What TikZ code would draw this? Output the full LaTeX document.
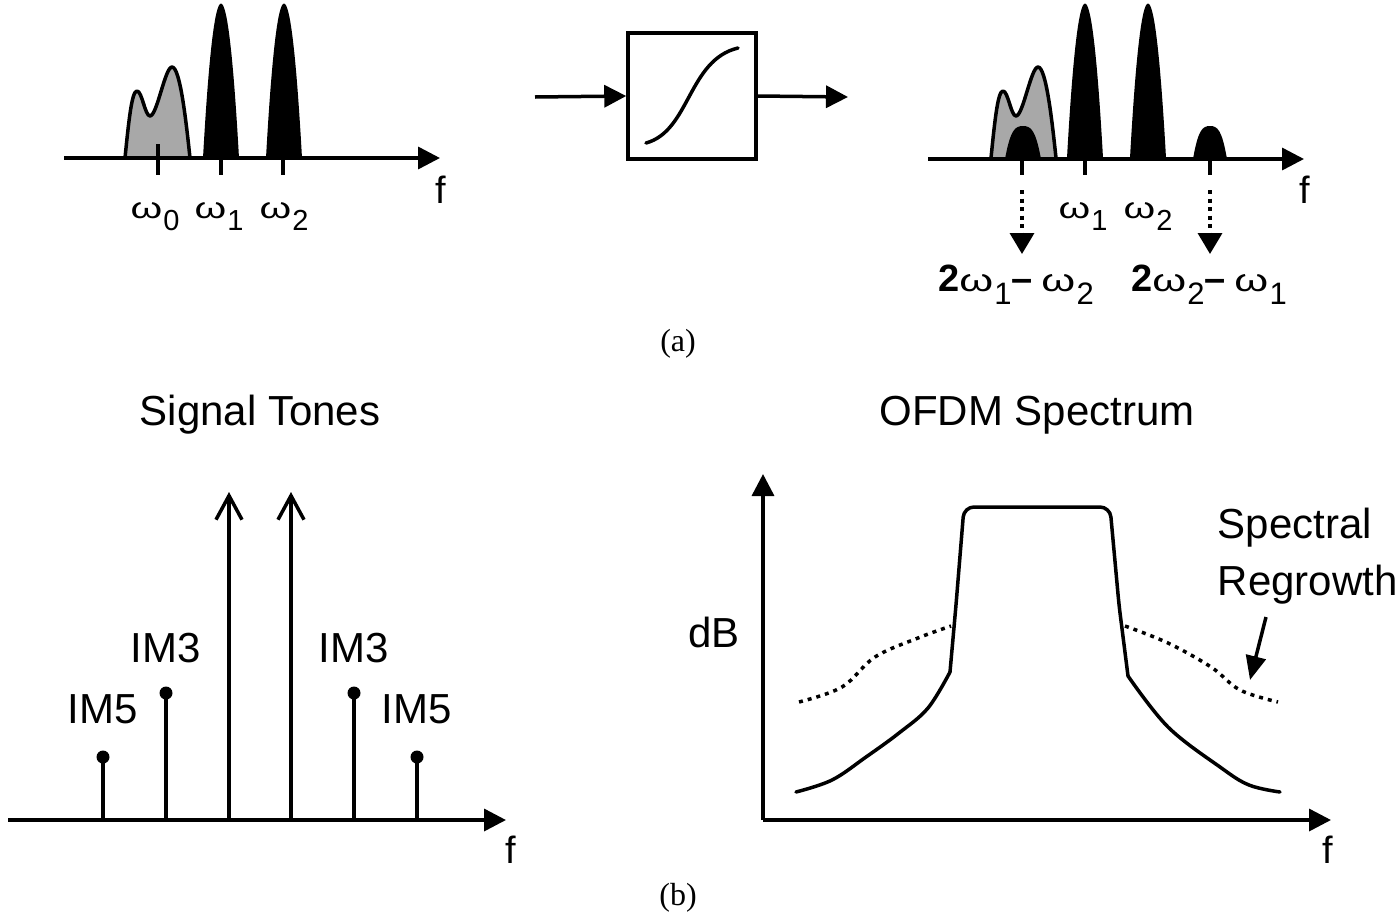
\documentclass[tikz,border=0pt]{standalone}
\usepackage{fontspec}
\usepackage{graphicx}
\setmainfont{Liberation Sans}
\newfontfamily\serifrm{Liberation Serif}
\usetikzlibrary{arrows.meta}
\definecolor{humpgray}{RGB}{168,168,168}
\newcommand{\omg}{\scalebox{1.4}[1.02]{ω}}
\newcommand{\om}[1]{\omg\kern0.04em\raisebox{-0.42em}{#1}}
\newcommand{\bigb}[1]{{\fontsize{38pt}{40pt}\selectfont\textbf{#1}}}
\newcommand{\grayhump}{%
  \filldraw[fill=humpgray, line width=3.5pt, line join=round]
    (125,158) .. controls (129,118) and (132,91) .. (137,91)
    .. controls (142,91) and (145,116) .. (150,116)
    .. controls (157,116) and (165,67) .. (172,67)
    .. controls (180,67) and (186,120) .. (190,158);}
\newcommand{\tallpeak}[2]{%
  \fill ({#1-#2},158) .. controls ({#1-#2*0.36},-48) and ({#1+#2*0.36},-48) .. ({#1+#2},158) -- cycle;}
\newcommand{\smallpeak}[2]{%
  \fill ({#1-#2},159) .. controls ({#1-#2*0.7},130) and ({#1-#2*0.45},126) .. (#1,126)
    .. controls ({#1+#2*0.45},126) and ({#1+#2*0.7},130) .. ({#1+#2},159) -- cycle;}
\begin{document}
\begin{tikzpicture}[x=1pt,y=-1pt,line width=3.5pt,
  axarr/.style={line width=3.5pt,-{Triangle[length=22pt,width=22pt]}},
  tonearr/.style={line width=3.5pt,-{Straight Barb[length=24pt,width=26pt,line width=3.5pt]}},
  dotarr/.style={line width=3.5pt,dash pattern=on 4pt off 4.5pt,-{Triangle[length=21pt,width=24pt]}},
  tick/.style={line width=3.5pt},
  lbl/.style={font=\fontsize{42pt}{50pt}\selectfont, inner sep=0pt, anchor=base},
  omlbl/.style={font=\fontsize{29pt}{34pt}\selectfont, inner sep=0pt, anchor=base},
  imlbl/.style={font=\fontsize{31pt}{36pt}\selectfont, inner sep=0pt, anchor=base},
  flbl/.style={font=\fontsize{38pt}{44pt}\selectfont, inner sep=0pt, anchor=base},
  caplbl/.style={font=\serifrm\fontsize{32pt}{36pt}\selectfont, inner sep=0pt, anchor=base},
  curve/.style={line width=3.5pt, line cap=round, line join=round},
  dotcurve/.style={line width=3.5pt, dash pattern=on 4pt off 5pt}]
\useasboundingbox (0,0) rectangle (1400,911);

% ---------- (a) left spectrum ----------
\grayhump
\tallpeak{221}{18}
\tallpeak{284}{18}
\coordinate (la0) at (64,158);
\coordinate (la1) at (440,158);
\draw[axarr] (la0) -- (la1);
\draw[tick] (158,144) -- (158,175);
\draw[tick] (221,150) -- (221,175);
\draw[tick] (283,150) -- (283,175);
\node[omlbl] (w0) at (155,218) {\om{0}};
\node[omlbl] (w1) at (219,218) {\om{1}};
\node[omlbl] (w2) at (284,218) {\om{2}};
\node[flbl] (fa1) at (441,203) {f};

% ---------- (a) nonlinear block ----------
\node[draw, line width=3.5pt, minimum width=128pt, minimum height=126pt, inner sep=0pt] (box) at (692,96) {};
\coordinate (bin) at (535,97);
\coordinate (bout) at (848,97);
\draw[axarr] (bin) -- (box.west);
\draw[axarr] (box.east) -- (bout);
\draw[curve] (646,143) .. controls (690,131) and (688,60) .. (738,48);

% ---------- (a) right spectrum ----------
\begin{scope}[xshift=866pt]
\grayhump
\end{scope}
\smallpeak{1023}{18}
\tallpeak{1085}{18}
\tallpeak{1148}{18}
\smallpeak{1210}{17}
\coordinate (ra0) at (928,159);
\coordinate (ra1) at (1304,159);
\draw[axarr] (ra0) -- (ra1);
\draw[tick] (1022,152) -- (1022,175);
\draw[tick] (1085,152) -- (1085,175);
\draw[tick] (1210,152) -- (1210,175);
\coordinate (d1s) at (1022,190);
\coordinate (d1e) at (1022,254);
\coordinate (d2s) at (1210,190);
\coordinate (d2e) at (1210,254);
\draw[dotarr] (d1s) -- (d1e);
\draw[dotarr] (d2s) -- (d2e);
\node[omlbl] (rw1) at (1083,218) {\om{1}};
\node[omlbl] (rw2) at (1148,218) {\om{2}};
\node[flbl] (fa2) at (1305,203) {f};
\node[imlbl] (im3l) at (1016,291) {\bigb{2}\om{1}\bigb{–}\ \om{2}};
\node[imlbl] (im3r) at (1209,291) {\bigb{2}\om{2}\bigb{–}\ \om{1}};
\node[caplbl] (capa) at (678,351) {(a)};

% ---------- (b) signal tones ----------
\node[lbl] (st) at (260,425) {Signal Tones};
\coordinate (bl0) at (8,820);
\coordinate (bl1) at (506,820);
\draw[axarr] (bl0) -- (bl1);
\node[flbl] (fb1) at (511,863) {f};
\foreach \x/\y/\n in {103/757/s1, 166/693/s2, 354/693/s5, 417/757/s6}{
  \coordinate (\n b) at (\x,820);
  \coordinate (\n t) at (\x,\y);
  \draw (\n b) -- (\n t);
  \fill (\n t) circle (6.5);
}
\coordinate (s3b) at (229,820);
\coordinate (s3t) at (229,492);
\coordinate (s4b) at (291,820);
\coordinate (s4t) at (291,492);
\draw[tonearr] (s3b) -- (s3t);
\draw[tonearr] (s4b) -- (s4t);
\node[lbl] (im5a) at (103,723) {IM5};
\node[lbl] (im3a) at (166,662) {IM3};
\node[lbl] (im3b) at (354,662) {IM3};
\node[lbl] (im5b) at (417,723) {IM5};

% ---------- (b) OFDM spectrum ----------
\node[lbl] (ofdm) at (1037,425) {OFDM Spectrum};
\coordinate (og) at (763,820);
\coordinate (oy) at (763,474);
\coordinate (ox) at (1331,820);
\draw[axarr] (og) -- (oy);
\draw[axarr] (og) -- (ox);
\node[lbl] (db) at (714,647) {dB};
\node[flbl] (fb2) at (1328,863) {f};
\draw[curve] plot[smooth, tension=0.6] coordinates {(796,792) (832,780) (866,757) (899,733) (928,708) (950,672)};
\draw[curve, rounded corners=10pt] (950,672) -- (956,605) -- (964,507) -- (1110,507) -- (1119,605) -- (1128,676);
\draw[curve] plot[smooth, tension=0.6] coordinates {(1128,676) (1168,727) (1220,767) (1249,785) (1280,792)};
\draw[dotcurve] plot[smooth, tension=0.6] coordinates {(799,702) (842,687) (875,657) (918,638) (951,626)};
\draw[dotcurve] plot[smooth, tension=0.6] coordinates {(1125,626) (1168,643) (1211,667) (1240,690) (1278,702)};
\node[lbl, anchor=base west] (sp1) at (1216,538) {Spectral};
\node[lbl, anchor=base west] (sp2) at (1216,595) {Regrowth};
\coordinate (sa0) at (1266,617);
\coordinate (sa1) at (1250,680);
\draw[line width=3.5pt,-{Triangle[length=24pt,width=20pt]}] (sa0) -- (sa1);
\node[caplbl] (capb) at (678,905) {(b)};
\end{tikzpicture}
\end{document}
